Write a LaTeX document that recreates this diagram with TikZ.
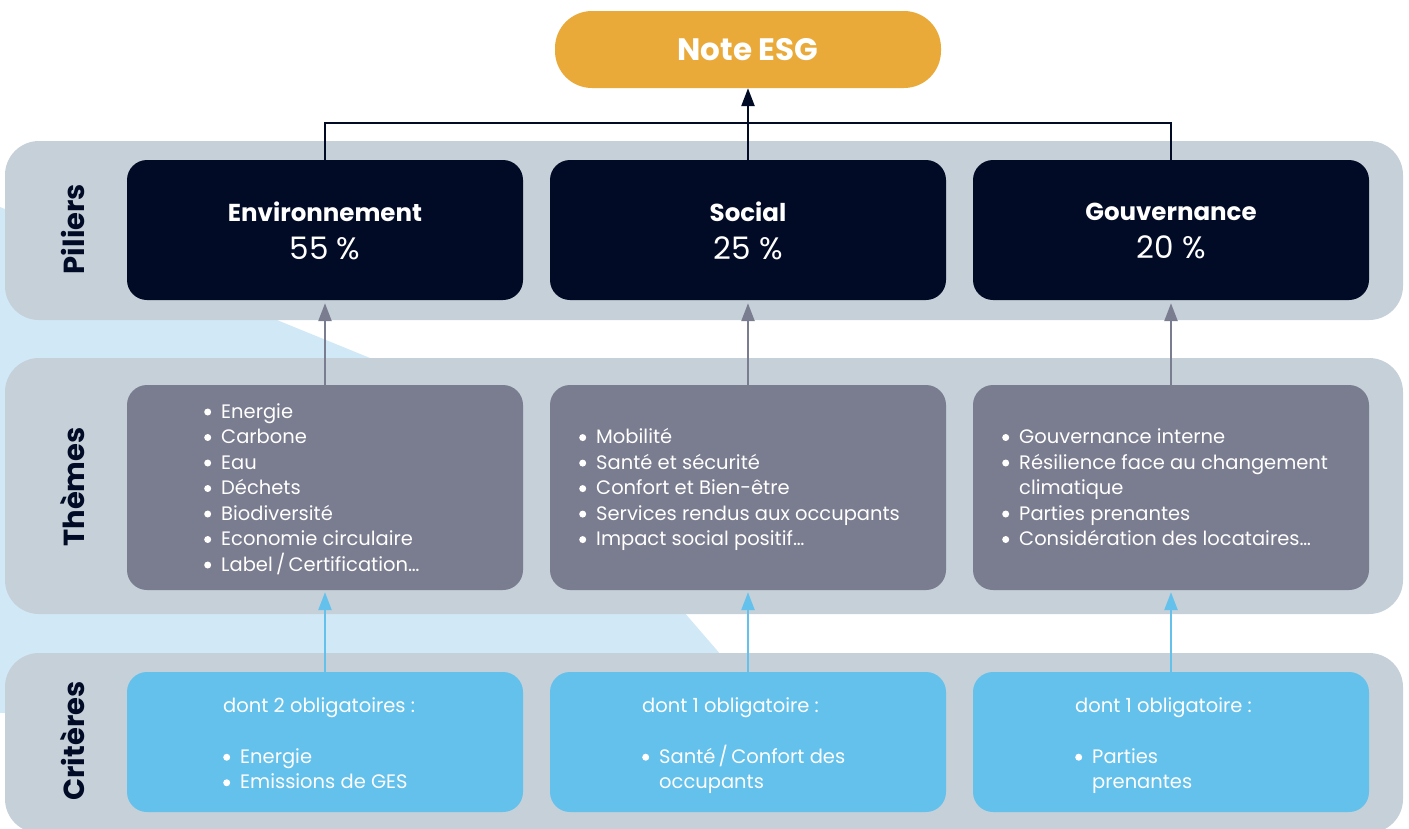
\documentclass[tikz,border=0pt]{standalone}
\usepackage{fontspec}
\setmainfont{Poppins}
\usetikzlibrary{arrows.meta}
\definecolor{navy}{HTML}{020B26}
\definecolor{noteorange}{HTML}{EAAA3A}
\definecolor{bandgray}{HTML}{C5D0D9}
\definecolor{themegray}{HTML}{7A7C8F}
\definecolor{critblue}{HTML}{63C1EC}
\definecolor{bgblue}{HTML}{D1E9F6}
\newcommand\itm{\makebox[17pt][l]{\tikz[baseline=0pt]\fill[white] (4.5pt,6pt) circle[radius=3.5pt];}}
\newcommand\noitm{\makebox[17pt][l]{}}
\newcommand\fl{\rule{0pt}{15pt}}
\newcommand\lstl{\rule[-5pt]{0pt}{0pt}}
\begin{document}
\begin{tikzpicture}[x=1pt,y=-1pt,
  band/.style={fill=bandgray, rounded corners=34pt, inner sep=0pt, minimum width=1398pt},
  boxbase/.style={rounded corners=20pt, inner sep=0pt, minimum width=396pt},
  pbox/.style={boxbase, fill=navy, minimum height=140pt, text=white, align=center, font=\fontsize{31}{38}\selectfont},
  tbox/.style={boxbase, fill=themegray, minimum height=205pt},
  cbox/.style={boxbase, fill=critblue, minimum height=140pt},
  boxtext/.style={anchor=west, inner sep=0pt, text=white, align=left, font=\fontsize{19.5}{25.5}\selectfont},
  vlabel/.style={rotate=90, inner sep=0pt, text=navy, font=\bfseries\fontsize{29}{29}\selectfont},
  navyline/.style={draw=navy, line width=2.5pt},
  tip/.style={-{Triangle[length=18pt,width=13pt]}},
  grayarrow/.style={draw=themegray, line width=2.5pt, tip, shorten >=3pt},
  bluearrow/.style={draw=critblue, line width=2.5pt, tip, shorten >=2pt}
]
\useasboundingbox (0,0) rectangle (1409,828);
% background light blue shape
\fill[bgblue] (0,207) -- (500,411) -- (639,560) -- (760,700) -- (0,713) -- cycle;
% bands
\node[band, minimum height=179pt] (b1) at (704,230.5) {};
\node[band, minimum height=256pt] (b2) at (704,486) {};
\node[band, minimum height=180pt] (b3) at (704,743) {};
% vertical labels
\node[vlabel] (l1) at (73,229) {Piliers};
\node[vlabel] (l2) at (73,487) {Thèmes};
\node[vlabel] (l3) at (73,741) {Critères};
% note
\node[fill=noteorange, rounded corners=37pt, minimum width=386pt, minimum height=77pt, inner sep=0pt,
      text=white, font=\bfseries\fontsize{31}{31}\selectfont] (note) at (748,49.5) {Note ESG};
% pillars
\node[pbox] (p1) at (325,230) {};
\node[pbox] (p2) at (748,230) {};
\node[pbox] (p3) at (1171,230) {};
\node[pbox, fill=none, minimum width=0pt, minimum height=0pt] (p1x) at (325,231) {{\bfseries\fontsize{24.5}{38}\selectfont Environnement}\\55 \%};
\node[pbox, fill=none, minimum width=0pt, minimum height=0pt] (p2x) at (748,231) {{\bfseries\fontsize{24.5}{38}\selectfont Social}\\25 \%};
\node[pbox, fill=none, minimum width=0pt, minimum height=0pt] (p3x) at (1171,231) {{\bfseries\fontsize{24.5}{38}\selectfont Gouvernance}\\20 \%};
% themes
\node[tbox] (t1) at (325,487.5) {};
\node[tbox] (t2) at (748,487.5) {};
\node[tbox] (t3) at (1171,487.5) {};
\node[boxtext] (t1x) at (204,489.5) {\fl\itm Energie\\\itm Carbone\\\itm Eau\\\itm Déchets\\\itm Biodiversité\\\itm Economie circulaire\\\itm Label\,/\,Certification…\lstl};
\node[boxtext] (t2x) at (579,489.5) {\fl\itm Mobilité\\\itm Santé et sécurité\\\itm Confort et Bien-être\\\itm Services rendus aux occupants\\\itm Impact social positif…\lstl};
\node[boxtext] (t3x) at (1002,489.5) {\fl\itm Gouvernance interne\\\itm Résilience face au changement\\\noitm climatique\\\itm Parties prenantes\\\itm Considération des locataires…\lstl};
% criteria
\node[cbox] (c1) at (325,742) {};
\node[cbox] (c2) at (748,742) {};
\node[cbox] (c3) at (1171,742) {};
\node[boxtext] (c1x) at (223,745.5) {\fl dont 2 obligatoires :\\[25.5pt]\itm Energie\\\itm Emissions de GES\lstl};
\node[boxtext] (c2x) at (642,745.5) {\fl dont 1 obligatoire :\\[25.5pt]\itm Santé\,/\,Confort des\\\noitm occupants\lstl};
\node[boxtext] (c3x) at (1075,745.5) {\fl dont 1 obligatoire :\\[25.5pt]\itm Parties\\\noitm prenantes\lstl};
% connectors
\coordinate (j) at (748,123);
\draw[navyline] (p1.north) |- (j) -| (p3.north);
\draw[navyline, tip] (p2.north) -- (note.south);
\draw[grayarrow] (t1.north) -- (p1.south);
\draw[grayarrow] (t2.north) -- (p2.south);
\draw[grayarrow] (t3.north) -- (p3.south);
\draw[bluearrow] (c1.north) -- (t1.south);
\draw[bluearrow] (c2.north) -- (t2.south);
\draw[bluearrow] (c3.north) -- (t3.south);
\end{tikzpicture}
\end{document}
